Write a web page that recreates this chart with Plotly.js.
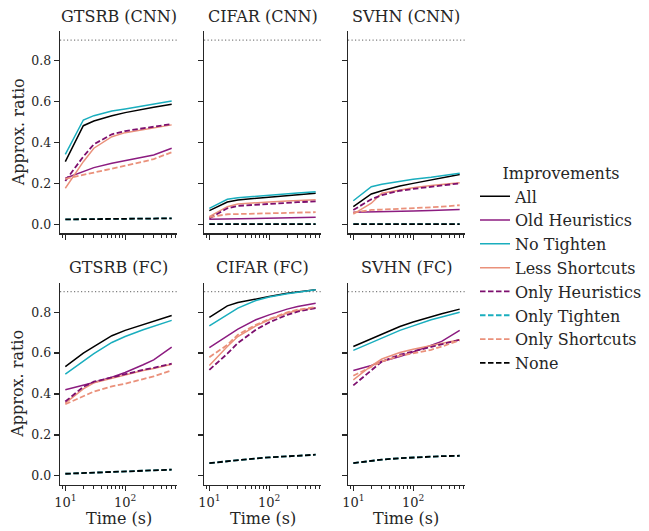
<!DOCTYPE html>
<html>
<head>
<meta charset="utf-8">
<script src="https://cdn.plot.ly/plotly-3.0.1.min.js"></script>
<style>html,body{margin:0;padding:0;background:#fff;}#chart{width:649px;height:531px;}</style>
</head>
<body>
<div id="chart"></div>
<script>
// ---- data ----
const times = [10, 20, 30, 60, 100, 200, 300, 600];
const seriesNames = ['All', 'Old Heuristics', 'No Tighten', 'Less Shortcuts',
                     'Only Heuristics', 'Only Tighten', 'Only Shortcuts', 'None'];
const panelTitles = ['GTSRB (CNN)', 'CIFAR (CNN)', 'SVHN (CNN)',
                     'GTSRB (FC)', 'CIFAR (FC)', 'SVHN (FC)'];
const targetRatio = 0.9;
const yTickVals = [0.0, 0.2, 0.4, 0.6, 0.8];
const xTickVals = [10, 100];
const xTickText = ['10<sup>1</sup>', '10<sup>2</sup>'];
const xMinorTickVals = [9, 20, 30, 40, 50, 60, 70, 80, 90, 200, 300, 400, 500, 600, 700, 800, 900];

const gtsrbCnn = {
  'All':             [0.306, 0.482, 0.505, 0.531, 0.546, 0.564, 0.572, 0.587],
  'Old Heuristics':  [0.225, 0.257, 0.277, 0.298, 0.310, 0.328, 0.339, 0.372],
  'No Tighten':      [0.342, 0.510, 0.531, 0.554, 0.564, 0.578, 0.587, 0.603],
  'Less Shortcuts':  [0.176, 0.306, 0.372, 0.428, 0.448, 0.464, 0.472, 0.486],
  'Only Heuristics': [0.212, 0.331, 0.391, 0.440, 0.456, 0.469, 0.477, 0.490],
  'Only Tighten':    [0.024, 0.025, 0.025, 0.026, 0.027, 0.027, 0.028, 0.029],
  'Only Shortcuts':  [0.222, 0.241, 0.252, 0.274, 0.287, 0.306, 0.319, 0.352],
  'None':            [0.024, 0.025, 0.025, 0.026, 0.027, 0.027, 0.028, 0.029]
};
const cifarCnn = {
  'All':             [0.067, 0.109, 0.119, 0.127, 0.132, 0.140, 0.145, 0.152],
  'Old Heuristics':  [0.024, 0.026, 0.027, 0.029, 0.030, 0.032, 0.033, 0.034],
  'No Tighten':      [0.078, 0.122, 0.130, 0.138, 0.143, 0.150, 0.153, 0.159],
  'Less Shortcuts':  [0.037, 0.086, 0.099, 0.106, 0.109, 0.114, 0.117, 0.120],
  'Only Heuristics': [0.029, 0.078, 0.090, 0.096, 0.099, 0.103, 0.108, 0.112],
  'Only Tighten':    [0.001, 0.001, 0.001, 0.001, 0.001, 0.001, 0.001, 0.001],
  'Only Shortcuts':  [0.035, 0.049, 0.050, 0.052, 0.053, 0.055, 0.057, 0.059],
  'None':            [0.001, 0.001, 0.001, 0.001, 0.001, 0.001, 0.001, 0.001]
};
const svhnCnn = {
  'All':             [0.086, 0.148, 0.164, 0.187, 0.200, 0.217, 0.225, 0.243],
  'Old Heuristics':  [0.059, 0.060, 0.062, 0.064, 0.065, 0.067, 0.068, 0.072],
  'No Tighten':      [0.115, 0.184, 0.196, 0.210, 0.220, 0.230, 0.236, 0.249],
  'Less Shortcuts':  [0.050, 0.103, 0.152, 0.168, 0.179, 0.189, 0.194, 0.203],
  'Only Heuristics': [0.070, 0.122, 0.143, 0.164, 0.173, 0.184, 0.189, 0.200],
  'Only Tighten':    [0.001, 0.001, 0.001, 0.001, 0.001, 0.001, 0.001, 0.001],
  'Only Shortcuts':  [0.057, 0.070, 0.072, 0.075, 0.078, 0.083, 0.086, 0.093],
  'None':            [0.001, 0.001, 0.001, 0.001, 0.001, 0.001, 0.001, 0.001]
};
const gtsrbFc = {
  'All':             [0.534, 0.600, 0.632, 0.685, 0.711, 0.738, 0.755, 0.784],
  'Old Heuristics':  [0.421, 0.442, 0.456, 0.482, 0.505, 0.543, 0.567, 0.629],
  'No Tighten':      [0.497, 0.562, 0.597, 0.652, 0.681, 0.714, 0.730, 0.760],
  'Less Shortcuts':  [0.355, 0.425, 0.455, 0.477, 0.495, 0.515, 0.525, 0.545],
  'Only Heuristics': [0.363, 0.435, 0.460, 0.481, 0.499, 0.518, 0.528, 0.548],
  'Only Tighten':    [0.010, 0.013, 0.015, 0.018, 0.021, 0.024, 0.026, 0.030],
  'Only Shortcuts':  [0.350, 0.390, 0.412, 0.437, 0.450, 0.473, 0.486, 0.515],
  'None':            [0.010, 0.013, 0.015, 0.018, 0.021, 0.024, 0.026, 0.030]
};
const cifarFc = {
  'All':             [0.774, 0.831, 0.847, 0.866, 0.877, 0.893, 0.900, 0.910],
  'Old Heuristics':  [0.627, 0.685, 0.717, 0.763, 0.787, 0.815, 0.828, 0.844],
  'No Tighten':      [0.733, 0.787, 0.820, 0.857, 0.874, 0.890, 0.898, 0.910],
  'Less Shortcuts':  [0.539, 0.632, 0.681, 0.733, 0.763, 0.796, 0.808, 0.822],
  'Only Heuristics': [0.518, 0.597, 0.649, 0.714, 0.750, 0.787, 0.803, 0.820],
  'Only Tighten':    [0.062, 0.072, 0.077, 0.085, 0.090, 0.096, 0.099, 0.103],
  'Only Shortcuts':  [0.580, 0.640, 0.690, 0.738, 0.766, 0.799, 0.812, 0.825],
  'None':            [0.062, 0.072, 0.077, 0.085, 0.090, 0.096, 0.099, 0.103]
};
const svhnFc = {
  'All':             [0.632, 0.670, 0.693, 0.730, 0.752, 0.779, 0.792, 0.815],
  'Old Heuristics':  [0.515, 0.539, 0.559, 0.583, 0.605, 0.637, 0.657, 0.711],
  'No Tighten':      [0.613, 0.652, 0.676, 0.711, 0.733, 0.763, 0.776, 0.800],
  'Less Shortcuts':  [0.469, 0.538, 0.571, 0.603, 0.619, 0.637, 0.649, 0.665],
  'Only Heuristics': [0.442, 0.518, 0.559, 0.592, 0.608, 0.629, 0.641, 0.665],
  'Only Tighten':    [0.062, 0.074, 0.079, 0.086, 0.090, 0.094, 0.096, 0.098],
  'Only Shortcuts':  [0.489, 0.534, 0.559, 0.587, 0.600, 0.616, 0.632, 0.662],
  'None':            [0.062, 0.074, 0.079, 0.086, 0.090, 0.094, 0.096, 0.098]
};
const panelData = [gtsrbCnn, cifarCnn, svhnCnn, gtsrbFc, cifarFc, svhnFc];

// ---- styles ----
const styles = {
  'All':             {color: '#000000', dash: 'solid', width: 1.5},
  'Old Heuristics':  {color: '#8c1c80', dash: 'solid', width: 1.5},
  'No Tighten':      {color: '#1aaebe', dash: 'solid', width: 1.5},
  'Less Shortcuts':  {color: '#ea917b', dash: 'solid', width: 1.5},
  'Only Heuristics': {color: '#7d0f6e', dash: '5.5px,2.5px', width: 1.8},
  'Only Tighten':    {color: '#1aaebe', dash: '5.5px,2.5px', width: 1.8},
  'Only Shortcuts':  {color: '#ea917b', dash: '5.5px,2.5px', width: 1.8},
  'None':            {color: '#000000', dash: '5.5px,2.5px', width: 1.8}
};

const FONT = "'DejaVu Serif', 'Liberation Serif', serif";
const INK = '#262626';
const xDomains = [[0, 0.2889], [0.3556, 0.6444], [0.7111, 1]];
const yDomains = [[0.554, 1], [0, 0.446]];

const traces = [];
const layout = {
  width: 649, height: 531,
  margin: {l: 60, r: 184, t: 31, b: 46, autoexpand: false},
  paper_bgcolor: '#fff', plot_bgcolor: '#fff',
  font: {family: FONT, color: INK, size: 12},
  showlegend: true,
  legend: {
    x: 1.0247, xanchor: 'left', y: 0.719, yanchor: 'top',
    font: {family: FONT, size: 16, color: INK},
    title: {text: 'Improvements', side: 'top center', font: {family: FONT, size: 16, color: INK}},
    itemwidth: 30, tracegroupgap: 0, bgcolor: 'rgba(0,0,0,0)', borderwidth: 0
  },
  shapes: [], annotations: []
};

panelData.forEach((data, p) => {
  const row = Math.floor(p / 3), col = p % 3;
  const idx = p + 1;
  const xa = 'x' + (idx === 1 ? '' : idx), ya = 'y' + (idx === 1 ? '' : idx);
  seriesNames.forEach(name => {
    const s = styles[name];
    traces.push({
      x: times, y: data[name], type: 'scatter', mode: 'lines',
      name: name, legendgroup: name, showlegend: p === 0,
      xaxis: xa, yaxis: ya,
      line: {color: s.color, dash: s.dash, width: s.width},
      hoverinfo: 'skip'
    });
  });
  layout['xaxis' + (idx === 1 ? '' : idx)] = {
    type: 'log', range: [0.911, 2.867], domain: xDomains[col], anchor: ya,
    showline: true, linecolor: INK, linewidth: 1.25, mirror: false,
    ticks: 'outside', ticklen: 5, tickwidth: 1.25, tickcolor: INK,
    tickmode: 'array', tickvals: xTickVals, ticktext: xTickText,
    showticklabels: row === 1, tickfont: {family: FONT, size: 13, color: INK},
    showgrid: false, zeroline: false, automargin: false,
    minor: {tickmode: 'array', tickvals: xMinorTickVals, ticks: 'outside', ticklen: 3, tickwidth: 1, tickcolor: INK, showgrid: false}
  };
  layout['yaxis' + (idx === 1 ? '' : idx)] = {
    range: [-0.045, 0.945], domain: yDomains[row], anchor: xa,
    showline: true, linecolor: INK, linewidth: 1.25, mirror: false,
    ticks: 'outside', ticklen: 5, tickwidth: 1.25, tickcolor: INK,
    tickmode: 'array', tickvals: yTickVals, tickformat: '.1f',
    showticklabels: col === 0, tickfont: {family: FONT, size: 12.5, color: INK},
    showgrid: false, zeroline: false, automargin: false
  };
  layout.shapes.push({
    type: 'line', xref: xa + ' domain', yref: ya, x0: 0, x1: 1, y0: targetRatio, y1: targetRatio,
    line: {color: '#808080', width: 1.2, dash: '1.2px,2.3px'}, layer: 'below'
  });
  layout.annotations.push({
    text: panelTitles[p], xref: xa + ' domain', yref: ya + ' domain', x: 0.5, y: 1,
    xanchor: 'center', yanchor: 'middle', yshift: 15, showarrow: false,
    font: {family: FONT, size: 16, color: INK}
  });
  if (col === 0) {
    layout.annotations.push({
      text: 'Approx. ratio', xref: 'paper', yref: ya + ' domain', x: (18 - 60) / 405, y: 0.5,
      xanchor: 'center', yanchor: 'middle', textangle: -90, showarrow: false,
      font: {family: FONT, size: 16, color: INK}
    });
  }
  if (row === 1) {
    layout.annotations.push({
      text: 'Time (s)', xref: xa + ' domain', yref: ya + ' domain', x: 0.5, y: 0,
      xanchor: 'center', yanchor: 'middle', yshift: -33, showarrow: false,
      font: {family: FONT, size: 16, color: INK}
    });
  }
});

Plotly.newPlot('chart', traces, layout, {staticPlot: true, displayModeBar: false});
</script>
</body>
</html>
